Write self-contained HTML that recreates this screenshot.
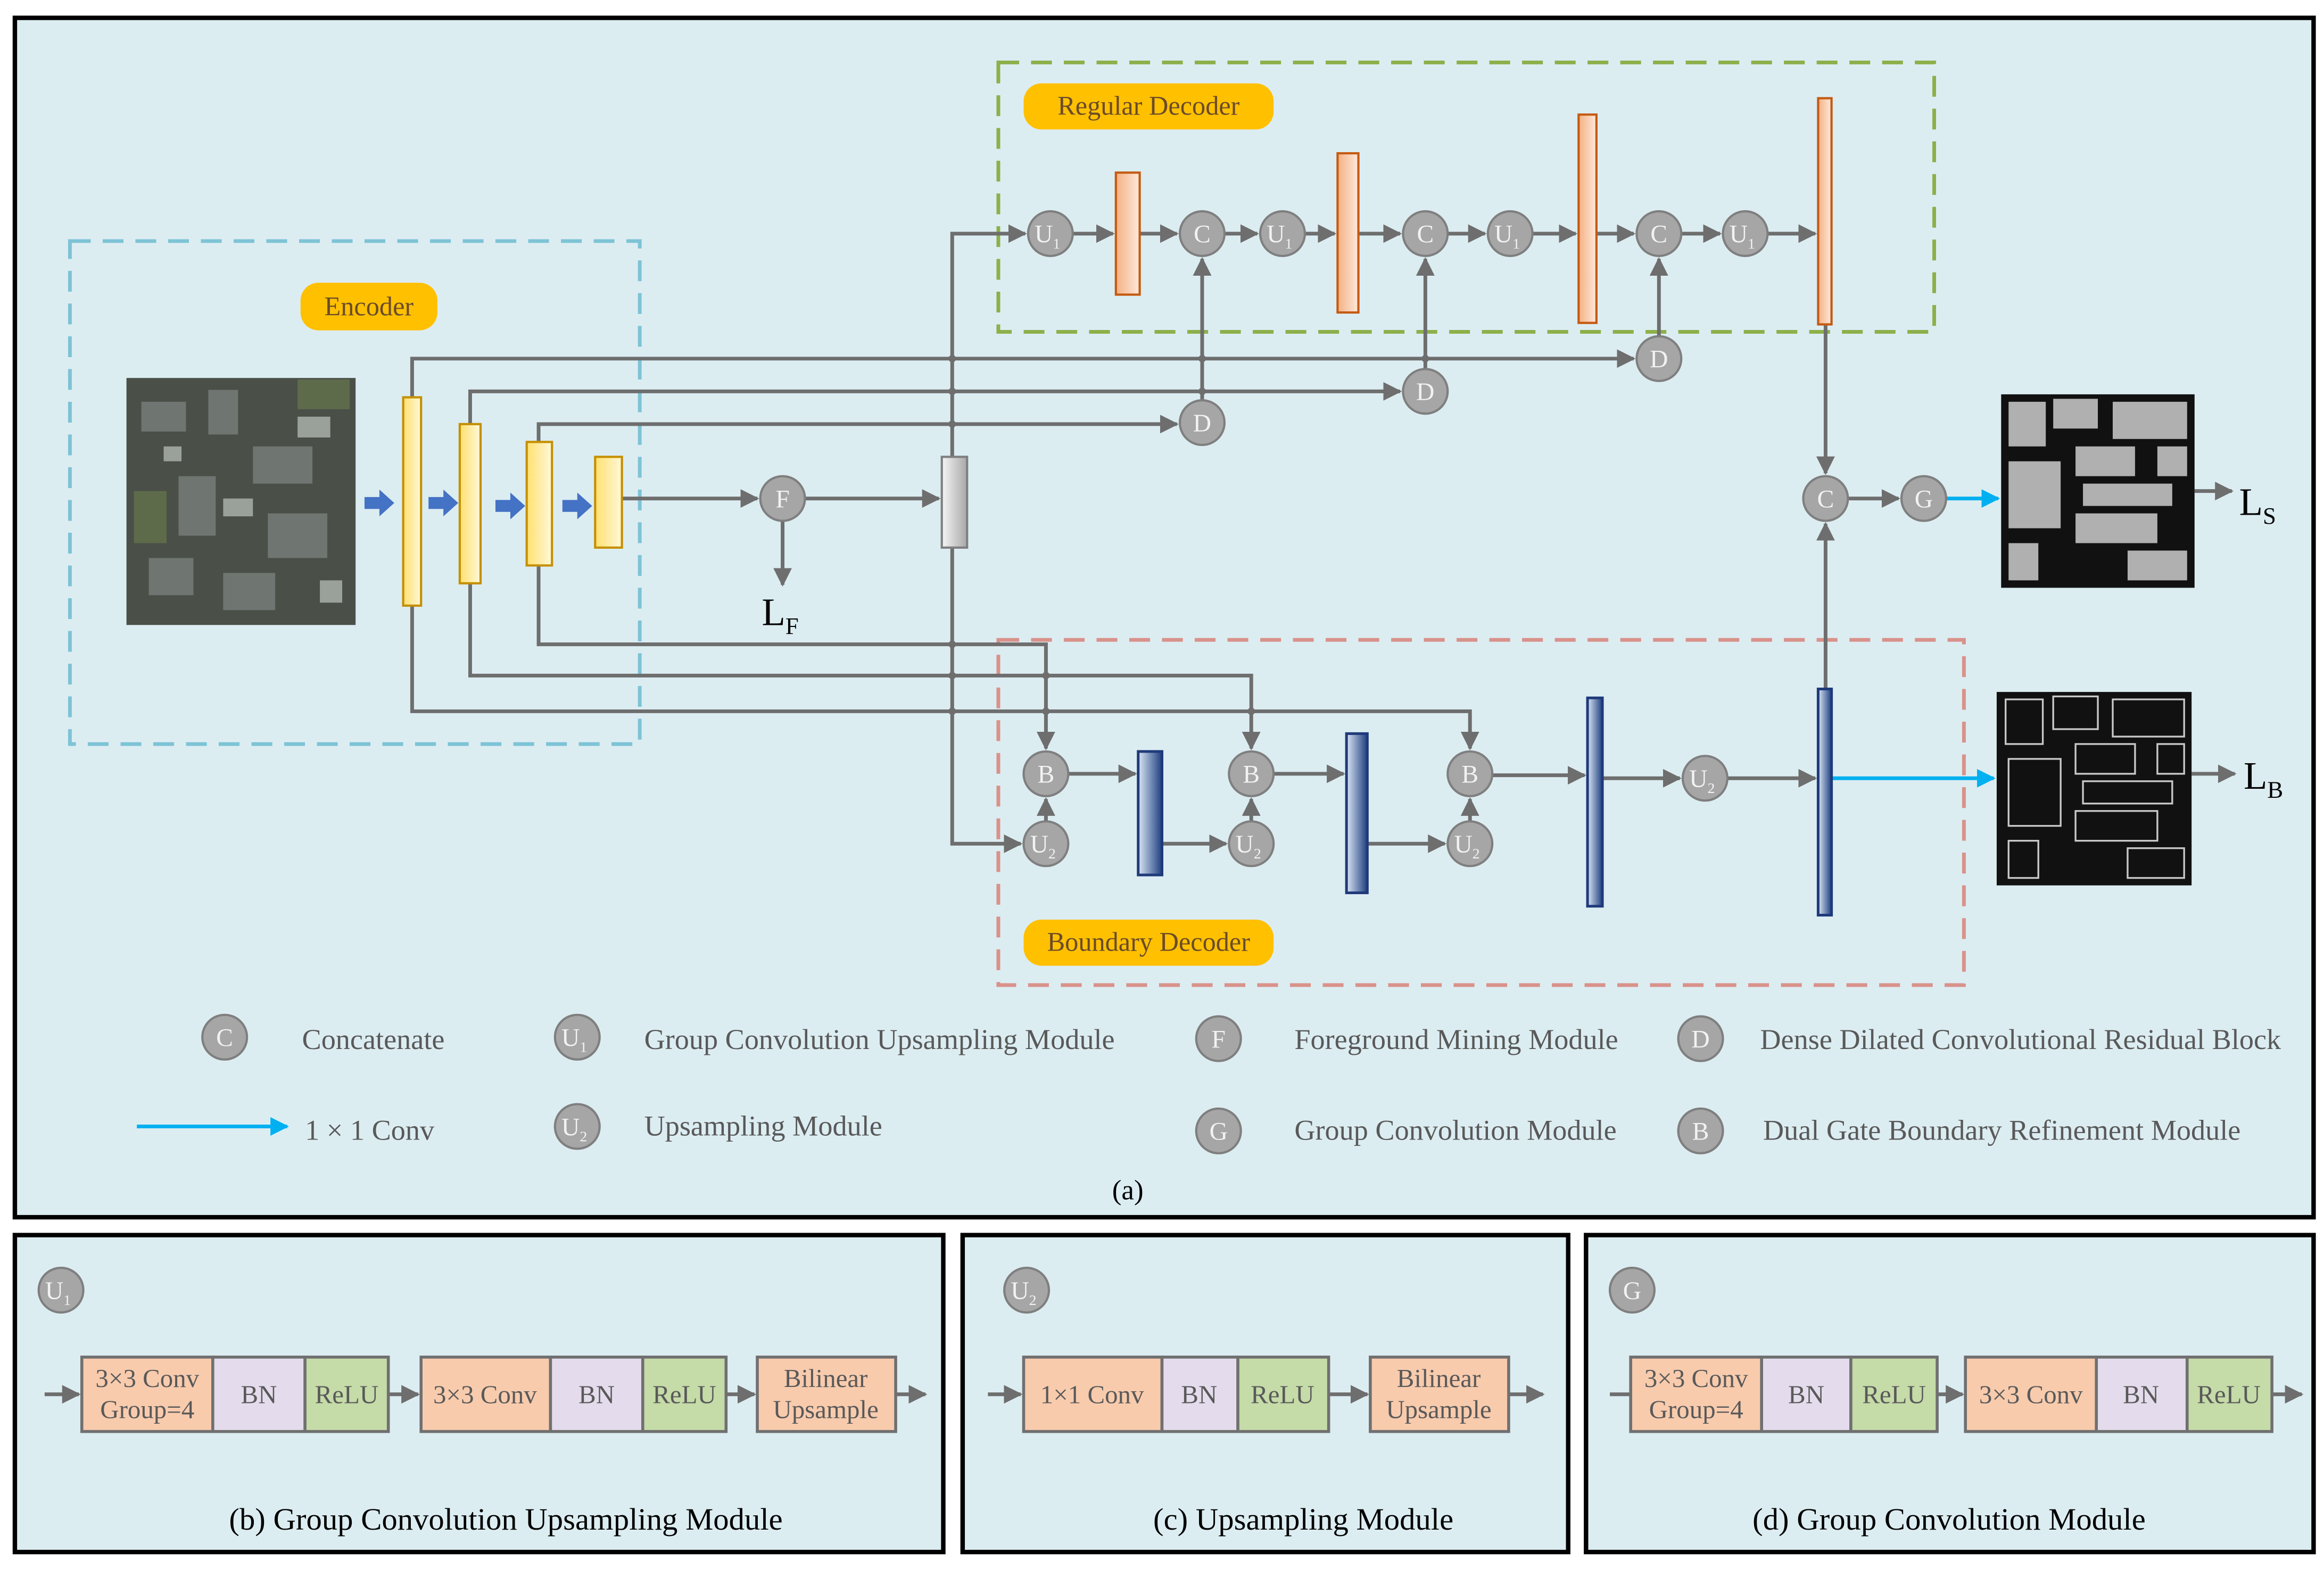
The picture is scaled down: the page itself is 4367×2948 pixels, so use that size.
<!DOCTYPE html>
<html><head><meta charset="utf-8"><style>
html,body{margin:0;padding:0;background:#fff;}
svg{display:block;}
text{font-family:"Liberation Serif",serif;}
</style></head><body>
<svg width="4367" height="2948" viewBox="0 0 1562 1054.4" preserveAspectRatio="none" xmlns="http://www.w3.org/2000/svg">
<defs>
<marker id="ar" viewBox="0 0 10 10" refX="9" refY="5" markerWidth="5" markerHeight="5" orient="auto"><path d="M0,0L10,5L0,10z" fill="#6e6e6e"/></marker>
<marker id="ac" viewBox="0 0 10 10" refX="9" refY="5" markerWidth="5" markerHeight="5" orient="auto"><path d="M0,0L10,5L0,10z" fill="#00b0f0"/></marker>
<linearGradient id="gy" x1="0" x2="1"><stop offset="0" stop-color="#ffe070"/><stop offset="1" stop-color="#fff8d8"/></linearGradient>
<linearGradient id="go" x1="0" x2="1"><stop offset="0" stop-color="#f4b183"/><stop offset="1" stop-color="#fde9dc"/></linearGradient>
<linearGradient id="gr" x1="0" x2="1"><stop offset="0" stop-color="#f5f5f5"/><stop offset="1" stop-color="#a8a8a8"/></linearGradient>
<linearGradient id="gb" x1="0" x2="1"><stop offset="0" stop-color="#dae6f4"/><stop offset="1" stop-color="#1f3f80"/></linearGradient>
</defs>
<rect x="10" y="12" width="1545" height="806" fill="#dcedf2" stroke="#000" stroke-width="3"/>
<rect x="10" y="830" width="624" height="213" fill="#dcedf2" stroke="#000" stroke-width="3"/>
<rect x="647" y="830" width="407" height="213" fill="#dcedf2" stroke="#000" stroke-width="3"/>
<rect x="1066" y="830" width="489" height="213" fill="#dcedf2" stroke="#000" stroke-width="3"/>

<rect x="47" y="162" width="383" height="338" fill="none" stroke="#7ec3d6" stroke-width="2.5" stroke-dasharray="14,8"/>
<rect x="671" y="42" width="629" height="181" fill="none" stroke="#8db04a" stroke-width="2.5" stroke-dasharray="14,8"/>
<rect x="671" y="430" width="649" height="232" fill="none" stroke="#d9928a" stroke-width="2.5" stroke-dasharray="14,8"/>
<rect x="202" y="190" width="92" height="32" rx="12" fill="#ffc000"/>
<text x="248" y="212" font-size="18" fill="#6a4b2a" text-anchor="middle">Encoder</text>
<rect x="688" y="56" width="168" height="31" rx="12" fill="#ffc000"/>
<text x="772" y="77" font-size="18" fill="#6a4b2a" text-anchor="middle">Regular Decoder</text>
<rect x="688" y="618" width="168" height="31" rx="12" fill="#ffc000"/>
<text x="772" y="639" font-size="18" fill="#6a4b2a" text-anchor="middle">Boundary Decoder</text>

<rect x="85" y="254" width="154" height="166" fill="#4a4f48"/>
<g fill="#6f7570"><rect x="95" y="270" width="30" height="20"/><rect x="140" y="262" width="20" height="30"/><rect x="170" y="300" width="40" height="25"/><rect x="120" y="320" width="25" height="40"/><rect x="180" y="345" width="40" height="30"/><rect x="100" y="375" width="30" height="25"/><rect x="150" y="385" width="35" height="25"/></g>
<g fill="#9aa09a"><rect x="150" y="335" width="20" height="12"/><rect x="200" y="280" width="22" height="14"/><rect x="110" y="300" width="12" height="10"/><rect x="215" y="390" width="15" height="15"/></g>
<g fill="#5d6b4a"><rect x="90" y="330" width="22" height="35"/><rect x="200" y="255" width="35" height="20"/></g>

<g fill="#4472c4"><path d="M245,334h10v-5l10,9l-10,9v-5h-10z"/><path d="M288,334h10v-5l10,9l-10,9v-5h-10z"/><path d="M333,336h10v-5l10,9l-10,9v-5h-10z"/><path d="M378,336h10v-5l10,9l-10,9v-5h-10z"/></g>

<g stroke="#6e6e6e" stroke-width="2.5" fill="none">
<path d="M277,267V241H1098" marker-end="url(#ar)"/>
<path d="M316,285V263H941" marker-end="url(#ar)"/>
<path d="M362,297V285H791" marker-end="url(#ar)"/>
<path d="M277,407V478H988V503" marker-end="url(#ar)"/>
<path d="M316,392V454H841V503" marker-end="url(#ar)"/>
<path d="M362,380V433H703V503" marker-end="url(#ar)"/>
<path d="M418,335H509" marker-end="url(#ar)"/>
<path d="M541,335H631" marker-end="url(#ar)"/>
<path d="M526,350V393" marker-end="url(#ar)"/>
<path d="M640,307V157H689" marker-end="url(#ar)"/>
<path d="M640,368V567H686" marker-end="url(#ar)"/>
<path d="M721,157H748" marker-end="url(#ar)"/>
<path d="M766,157H791" marker-end="url(#ar)"/>
<path d="M823,157H845" marker-end="url(#ar)"/>
<path d="M877,157H897" marker-end="url(#ar)"/>
<path d="M913,157H941" marker-end="url(#ar)"/>
<path d="M973,157H998" marker-end="url(#ar)"/>
<path d="M1030,157H1059" marker-end="url(#ar)"/>
<path d="M1073,157H1098" marker-end="url(#ar)"/>
<path d="M1130,157H1156" marker-end="url(#ar)"/>
<path d="M1188,157H1220" marker-end="url(#ar)"/>
<path d="M808,269V174" marker-end="url(#ar)"/>
<path d="M958,248V174" marker-end="url(#ar)"/>
<path d="M1115,226V174" marker-end="url(#ar)"/>
<path d="M1227,218V318" marker-end="url(#ar)"/>
<path d="M1227,463V352" marker-end="url(#ar)"/>
<path d="M1242,335H1276" marker-end="url(#ar)"/>
<path d="M718,520H763" marker-end="url(#ar)"/>
<path d="M781,567H824" marker-end="url(#ar)"/>
<path d="M856,520H903" marker-end="url(#ar)"/>
<path d="M919,567H971" marker-end="url(#ar)"/>
<path d="M1003,521H1065" marker-end="url(#ar)"/>
<path d="M1077,523H1129" marker-end="url(#ar)"/>
<path d="M1161,523H1220" marker-end="url(#ar)"/>
<path d="M703,552V537" marker-end="url(#ar)"/>
<path d="M841,552V537" marker-end="url(#ar)"/>
<path d="M988,552V537" marker-end="url(#ar)"/>
<path d="M1475,330H1500" marker-end="url(#ar)"/>
<path d="M1473,520H1502" marker-end="url(#ar)"/>
</g>
<g stroke="#00b0f0" stroke-width="2.5" fill="none">
<path d="M1308,335H1343" marker-end="url(#ac)"/>
<path d="M1231,523H1340" marker-end="url(#ac)"/>
<path d="M92,757H193" marker-end="url(#ac)"/>
</g>
<g fill="#6e6e6e"><circle cx="640" cy="241" r="2.5"/><circle cx="640" cy="263" r="2.5"/><circle cx="640" cy="285" r="2.5"/><circle cx="808" cy="241" r="2.5"/><circle cx="808" cy="263" r="2.5"/><circle cx="958" cy="241" r="2.5"/><circle cx="640" cy="433" r="2.5"/><circle cx="640" cy="454" r="2.5"/><circle cx="640" cy="478" r="2.5"/><circle cx="703" cy="454" r="2.5"/><circle cx="703" cy="478" r="2.5"/><circle cx="841" cy="478" r="2.5"/></g>

<g stroke="#c59000" stroke-width="1.5" fill="url(#gy)"><rect x="271" y="267" width="12" height="140"/><rect x="309" y="285" width="14" height="107"/><rect x="354" y="297" width="17" height="83"/><rect x="400" y="307" width="18" height="61"/></g>
<g stroke="#c55a11" stroke-width="1.5" fill="url(#go)"><rect x="750" y="116" width="16" height="82"/><rect x="899" y="103" width="14" height="107"/><rect x="1061" y="77" width="12" height="140"/><rect x="1222" y="66" width="9" height="152"/></g>
<rect x="633" y="307" width="17" height="61" fill="url(#gr)" stroke="#7f7f7f" stroke-width="1.5"/>
<g stroke="#1f3a7a" stroke-width="1.8" fill="url(#gb)"><rect x="765" y="505" width="16" height="83"/><rect x="905" y="493" width="14" height="107"/><rect x="1067" y="469" width="10" height="140"/><rect x="1222" y="463" width="9" height="152"/></g>

<g stroke="#7f7f7f" stroke-width="1.5" fill="#a6a6a6">
<circle cx="706" cy="157" r="15"/><circle cx="808" cy="157" r="15"/><circle cx="862" cy="157" r="15"/><circle cx="958" cy="157" r="15"/><circle cx="1015" cy="157" r="15"/><circle cx="1115" cy="157" r="15"/><circle cx="1173" cy="157" r="15"/>
<circle cx="808" cy="284" r="15"/><circle cx="958" cy="263" r="15"/><circle cx="1115" cy="241" r="15"/>
<circle cx="526" cy="335" r="15"/><circle cx="1227" cy="335" r="15"/><circle cx="1293" cy="335" r="15"/>
<circle cx="703" cy="520" r="15"/><circle cx="841" cy="520" r="15"/><circle cx="988" cy="520" r="15"/>
<circle cx="703" cy="567" r="15"/><circle cx="841" cy="567" r="15"/><circle cx="988" cy="567" r="15"/><circle cx="1146" cy="523" r="15"/>
<circle cx="151" cy="697" r="15"/><circle cx="388" cy="697" r="15"/><circle cx="819" cy="698" r="15"/><circle cx="1143" cy="698" r="15"/>
<circle cx="388" cy="757" r="15"/><circle cx="819" cy="760" r="15"/><circle cx="1143" cy="760" r="15"/>
<circle cx="41" cy="867" r="15"/><circle cx="690" cy="867" r="15"/><circle cx="1097" cy="867" r="15"/>
</g>
<g font-size="17" fill="#f2f2f2" text-anchor="middle">
<text x="704" y="163">U<tspan font-size="10" dy="4">1</tspan></text>
<text x="808" y="163">C</text>
<text x="860" y="163">U<tspan font-size="10" dy="4">1</tspan></text>
<text x="958" y="163">C</text>
<text x="1013" y="163">U<tspan font-size="10" dy="4">1</tspan></text>
<text x="1115" y="163">C</text>
<text x="1171" y="163">U<tspan font-size="10" dy="4">1</tspan></text>
<text x="808" y="290">D</text><text x="958" y="269">D</text><text x="1115" y="247">D</text>
<text x="526" y="341">F</text><text x="1227" y="341">C</text><text x="1293" y="341">G</text>
<text x="703" y="526">B</text><text x="841" y="526">B</text><text x="988" y="526">B</text>
<text x="701" y="573">U<tspan font-size="10" dy="4">2</tspan></text>
<text x="839" y="573">U<tspan font-size="10" dy="4">2</tspan></text>
<text x="986" y="573">U<tspan font-size="10" dy="4">2</tspan></text>
<text x="1144" y="529">U<tspan font-size="10" dy="4">2</tspan></text>
<text x="151" y="703">C</text>
<text x="386" y="703">U<tspan font-size="10" dy="4">1</tspan></text>
<text x="819" y="704">F</text><text x="1143" y="704">D</text>
<text x="386" y="763">U<tspan font-size="10" dy="4">2</tspan></text>
<text x="819" y="766">G</text><text x="1143" y="766">B</text>
<text x="39" y="873">U<tspan font-size="10" dy="4">1</tspan></text>
<text x="688" y="873">U<tspan font-size="10" dy="4">2</tspan></text>
<text x="1097" y="873">G</text>
</g>

<text x="512" y="420" font-size="26" fill="#000">L<tspan font-size="16" dy="6">F</tspan></text>
<text x="1505" y="346" font-size="26" fill="#000">L<tspan font-size="16" dy="6">S</tspan></text>
<text x="1508" y="530" font-size="26" fill="#000">L<tspan font-size="16" dy="6">B</tspan></text>

<rect x="1345" y="265" width="130" height="130" fill="#111"/>
<g fill="#b0b0b0"><rect x="1350" y="270" width="25" height="30"/><rect x="1380" y="268" width="30" height="20"/><rect x="1420" y="270" width="50" height="25"/><rect x="1350" y="310" width="35" height="45"/><rect x="1395" y="300" width="40" height="20"/><rect x="1400" y="325" width="60" height="15"/><rect x="1395" y="345" width="55" height="20"/><rect x="1350" y="365" width="20" height="25"/><rect x="1430" y="370" width="40" height="20"/><rect x="1450" y="300" width="20" height="20"/></g>
<rect x="1342" y="465" width="131" height="130" fill="#111"/>
<g fill="none" stroke="#c8c8c8" stroke-width="1.2"><rect x="1348" y="470" width="25" height="30"/><rect x="1380" y="468" width="30" height="22"/><rect x="1420" y="470" width="48" height="25"/><rect x="1350" y="510" width="35" height="45"/><rect x="1395" y="500" width="40" height="20"/><rect x="1400" y="525" width="60" height="15"/><rect x="1395" y="545" width="55" height="20"/><rect x="1350" y="565" width="20" height="25"/><rect x="1430" y="570" width="38" height="20"/><rect x="1450" y="500" width="18" height="20"/></g>

<g font-size="19.4" fill="#595959">
<text x="203" y="705">Concatenate</text>
<text x="433" y="705">Group Convolution Upsampling Module</text>
<text x="870" y="705">Foreground Mining Module</text>
<text x="1183" y="705">Dense Dilated Convolutional Residual Block</text>
<text x="205" y="766">1 × 1 Conv</text>
<text x="433" y="763">Upsampling Module</text>
<text x="870" y="766">Group Convolution Module</text>
<text x="1185" y="766">Dual Gate Boundary Refinement Module</text>
</g>
<text x="758" y="806" font-size="19" fill="#000" text-anchor="middle">(a)</text>

<g stroke="#6e6e6e" stroke-width="2.5" fill="none">
<path d="M30,937H53" marker-end="url(#ar)"/><path d="M261,937H281" marker-end="url(#ar)"/><path d="M488,937H507" marker-end="url(#ar)"/><path d="M602,937H622" marker-end="url(#ar)"/>
<path d="M664,937H686" marker-end="url(#ar)"/><path d="M893,937H919" marker-end="url(#ar)"/><path d="M1014,937H1037" marker-end="url(#ar)"/>
<path d="M1082,937H1096"/><path d="M1302,937H1319" marker-end="url(#ar)"/><path d="M1527,937H1547" marker-end="url(#ar)"/>
</g>
<g stroke="#707070" stroke-width="2">
<rect x="55" y="912" width="88" height="50" fill="#f8cbad"/><rect x="143" y="912" width="62" height="50" fill="#e4dcec"/><rect x="205" y="912" width="56" height="50" fill="#c5dba8"/>
<rect x="283" y="912" width="87" height="50" fill="#f8cbad"/><rect x="370" y="912" width="62" height="50" fill="#e4dcec"/><rect x="432" y="912" width="56" height="50" fill="#c5dba8"/>
<rect x="509" y="912" width="93" height="50" fill="#f8cbad"/>
<rect x="688" y="912" width="93" height="50" fill="#f8cbad"/><rect x="781" y="912" width="51" height="50" fill="#e4dcec"/><rect x="832" y="912" width="61" height="50" fill="#c5dba8"/>
<rect x="921" y="912" width="93" height="50" fill="#f8cbad"/>
<rect x="1096" y="912" width="88" height="50" fill="#f8cbad"/><rect x="1184" y="912" width="60" height="50" fill="#e4dcec"/><rect x="1244" y="912" width="58" height="50" fill="#c5dba8"/>
<rect x="1321" y="912" width="88" height="50" fill="#f8cbad"/><rect x="1409" y="912" width="61" height="50" fill="#e4dcec"/><rect x="1470" y="912" width="57" height="50" fill="#c5dba8"/>
</g>
<g font-size="17.5" fill="#595959" text-anchor="middle">
<text x="99" y="932">3×3 Conv</text><text x="99" y="953">Group=4</text><text x="174" y="943">BN</text><text x="233" y="943">ReLU</text>
<text x="326" y="943">3×3 Conv</text><text x="401" y="943">BN</text><text x="460" y="943">ReLU</text>
<text x="555" y="932">Bilinear</text><text x="555" y="953">Upsample</text>
<text x="734" y="943">1×1 Conv</text><text x="806" y="943">BN</text><text x="862" y="943">ReLU</text>
<text x="967" y="932">Bilinear</text><text x="967" y="953">Upsample</text>
<text x="1140" y="932">3×3 Conv</text><text x="1140" y="953">Group=4</text><text x="1214" y="943">BN</text><text x="1273" y="943">ReLU</text>
<text x="1365" y="943">3×3 Conv</text><text x="1439" y="943">BN</text><text x="1498" y="943">ReLU</text>
</g>
<g font-size="21" fill="#000" text-anchor="middle">
<text x="340" y="1028">(b) Group Convolution Upsampling Module</text>
<text x="876" y="1028">(c) Upsampling Module</text>
<text x="1310" y="1028">(d) Group Convolution Module</text>
</g>
</svg>
</body></html>
